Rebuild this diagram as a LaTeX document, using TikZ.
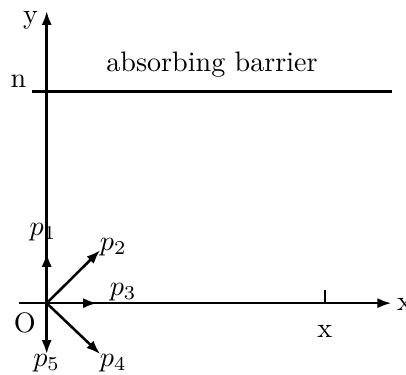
\documentclass[tikz,border=0pt]{standalone}
\usetikzlibrary{arrows.meta}

\begin{document}
\begin{tikzpicture}[
x=0.65cm, y=0.65cm,
line width=0.9pt,
vec/.style={-{Latex[length=5pt,width=3.6pt]}},
every node/.style={inner sep=1pt}
]

\useasboundingbox (-0.898,-1.379) rectangle (6.91,5.83);

\coordinate (O) at (0,0);

% axes
\coordinate (xs) at (-0.53,0);
\coordinate (xe) at (6.63,0);
\coordinate (ye) at (0,5.62);
\draw[vec] (xs) -- (xe);
\draw[vec] (O) -- (ye);

\node (xlab) at (6.88,-0.03) {x};
\node (ylab) at (-0.31,5.44) {y};
\node (olab) at (-0.42,-0.38) {O};

% tick on the x axis
\coordinate (t0) at (5.35,0);
\coordinate (t1) at (5.35,0.25);
\draw (t0) -- (t1);
\node (tlab) at (5.35,-0.55) {x};

% barrier
\coordinate (bs) at (-0.29,4.07);
\coordinate (be) at (6.64,4.07);
\draw (bs) -- (be);
\node (nlab) at (-0.545,4.26) {n};
\node (blab) at (3.18,4.58) {absorbing barrier};

% step vectors
\coordinate (e1) at (0,0.97);
\coordinate (e2) at (1.03,1.02);
\coordinate (e3) at (0.97,0);
\coordinate (e4) at (1.03,-0.98);
\coordinate (e5) at (0,-0.98);

\draw[vec] (O) -- (e1);
\draw[vec] (O) -- (e2);
\draw[vec] (O) -- (e3);
\draw[vec] (O) -- (e4);
\draw[vec] (O) -- (e5);

\node (p1) at (-0.07,1.37) {$p_1$};
\node (p2) at (1.28,1.08) {$p_2$};
\node (p3) at (1.47,0.22) {$p_3$};
\node (p4) at (1.28,-1.15) {$p_4$};
\node (p5) at (0,-1.15) {$p_5$};

\end{tikzpicture}
\end{document}
